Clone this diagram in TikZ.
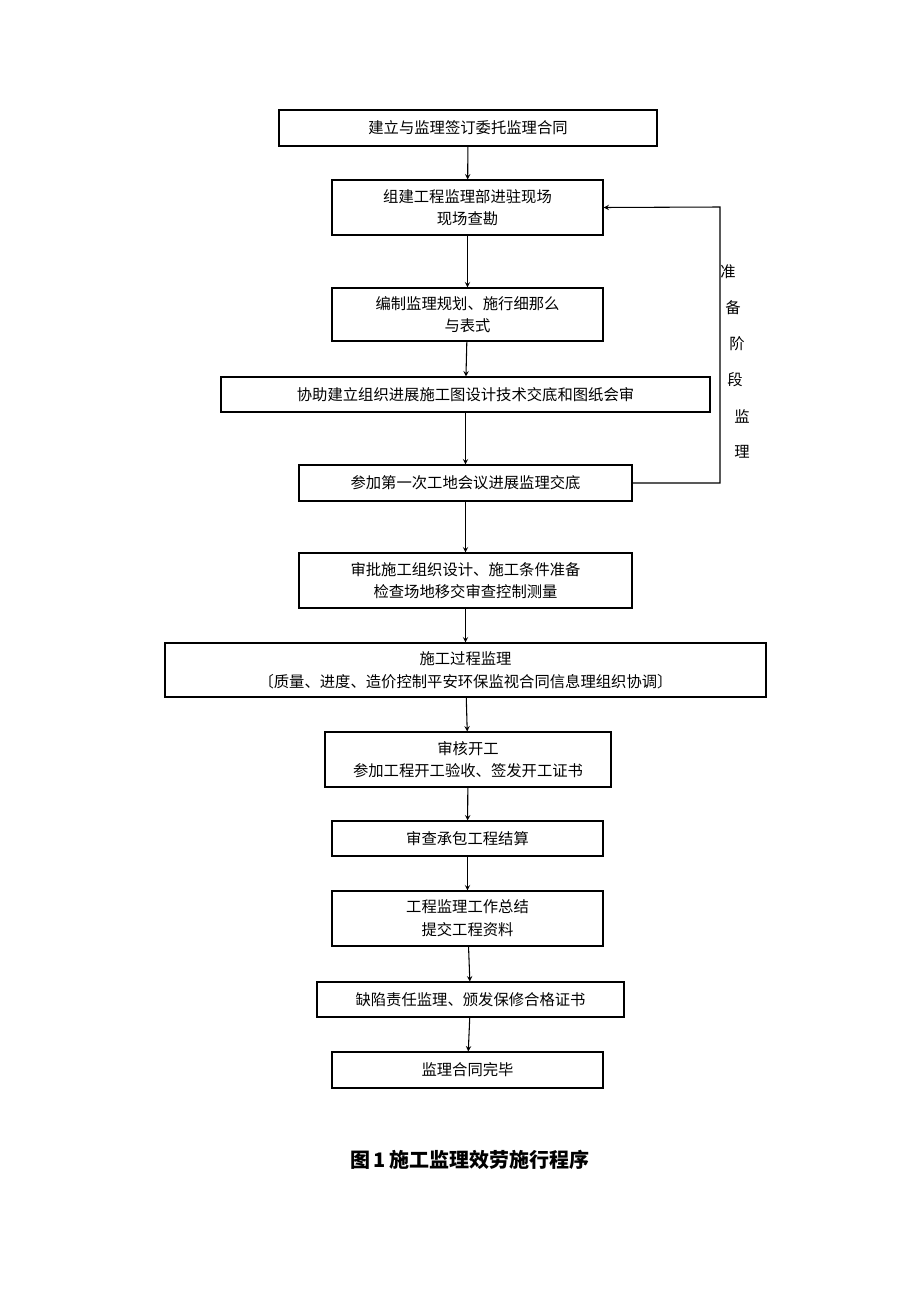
\documentclass[tikz,border=0pt]{standalone}
\usepackage{fontspec}
\setmainfont{Liberation Serif}
\newfontfamily\cjk{Noto Sans CJK SC}
\usetikzlibrary{positioning}
\tikzset{
  stepbox/.style={draw,thick,align=center,inner sep=0pt},
  flow/.style={->,thick,>=stealth}
}
\newcommand{\bx}[6]{%
  \node[stepbox,minimum width={(#4-#2)*0.75pt},minimum height={(#5-#3)*0.75pt}] (#1) at ({(#2+#4)/2},{(#3+#5)/2}) {#6};}
\begin{document}
\begin{tikzpicture}[x=0.75pt,y=-0.75pt,font=\cjk\fontsize{11.5}{17}\selectfont]
\useasboundingbox (0,0) rectangle (920,1302);
\bx{sign}{279}{110}{657}{146}{建立与监理签订委托监理合同}
\bx{team}{332}{180}{603}{235}{组建工程监理部进驻现场\\现场查勘}
\bx{plan}{332}{288}{603}{341}{编制监理规划、施行细那么\\与表式}
\bx{design}{221}{377}{710}{412}{协助建立组织进展施工图设计技术交底和图纸会审}
\bx{meet}{299}{465}{632}{501}{参加第一次工地会议进展监理交底}
\bx{check}{299}{553}{632}{608}{审批施工组织设计、施工条件准备\\检查场地移交审查控制测量}
\bx{proc}{165}{643}{766}{697}{施工过程监理\\〔质量、进度、造价控制平安环保监视合同信息理组织协调〕}
\bx{start}{325}{732}{611}{787}{审核开工\\参加工程开工验收、签发开工证书}
\bx{acct}{332}{821}{603}{856}{审查承包工程结算}
\bx{sum}{332}{891}{603}{946}{工程监理工作总结\\提交工程资料}
\bx{defect}{317}{982}{624}{1017}{缺陷责任监理、颁发保修合格证书}
\bx{done}{332}{1052}{603}{1088}{监理合同完毕}
% main flow
\foreach \a/\b in {sign/team,team/plan,plan/design,design/meet,meet/check,check/proc,proc/start,start/acct,acct/sum,sum/defect,defect/done}
  \draw[flow] (\a) -- (\b);
% feedback loop
\coordinate (fb1) at (720,483);
\coordinate (fb2) at (720,207);
\draw[flow] (meet.east) -- (fb1) -- (fb2) -- (team.east);
\foreach \c/\x/\y in {准/728/272,备/733/308,阶/737/344,段/735/380,监/742/416,理/742/452}
  \node (side\y) at (\x,\y) {\c};
\node[font=\cjk\fontsize{15}{18}\selectfont\bfseries] (cap) at (470,1160) {图\,1\,施工监理效劳施行程序};
\end{tikzpicture}
\end{document}
